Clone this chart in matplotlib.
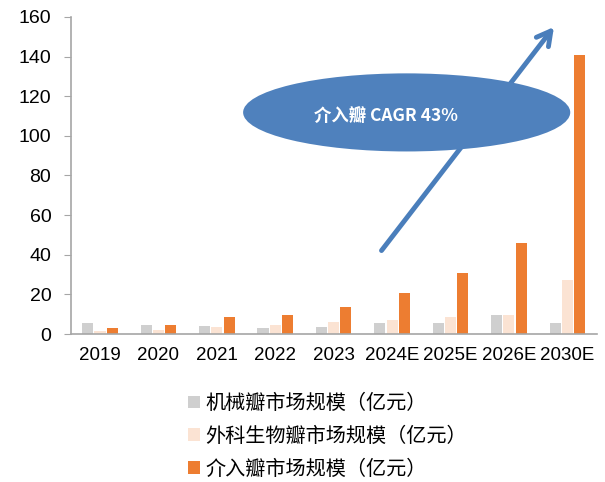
import matplotlib
matplotlib.use("Agg")
import matplotlib.pyplot as plt
import numpy as np
from matplotlib.patches import Ellipse

plt.rcParams['font.family'] = ['Liberation Sans Narrow', 'Liberation Sans', 'Noto Sans CJK SC', 'DejaVu Sans']

years = ["2019", "2020", "2021", "2022", "2023", "2024E", "2025E", "2026E", "2030E"]
mechanical = [5.7, 4.7, 4.2, 3.2, 3.7, 5.4, 5.7, 9.6, 5.7]
bioprosthetic = [1.5, 2.0, 3.5, 4.7, 5.9, 7.2, 8.6, 9.8, 27.3]
interventional = [3.0, 4.7, 8.7, 9.8, 13.8, 20.5, 31.0, 46.0, 141.0]

labels = ["机械瓣市场规模（亿元）", "外科生物瓣市场规模（亿元）", "介入瓣市场规模（亿元）"]
colors = ["#CFCFCF", "#FBE3D3", "#ED7D31"]

fig = plt.figure(figsize=(6.05, 4.82), dpi=100)
ax = fig.add_axes([0.117, 0.307, 0.869, 0.658])

x = np.arange(len(years))
w = 0.19
step = 0.21
handles = []
for i, (vals, c, lab) in enumerate(zip([mechanical, bioprosthetic, interventional], colors, labels)):
    h = ax.bar(x + (i - 1) * step, vals, w, color=c, label=lab, zorder=2)
    handles.append(h)

ax.set_xlim(-0.5, len(years) - 0.5)
ax.set_ylim(0, 160)
ax.set_yticks(range(0, 161, 20))
ax.set_xticks(x)
ax.set_xticklabels(years)
ax.tick_params(axis='x', length=0, pad=9, labelsize=13.5)
ax.tick_params(axis='y', length=5, color="#A6A6A6", labelsize=14, pad=9)
for s in ["top", "right"]:
    ax.spines[s].set_visible(False)
for s in ["left", "bottom"]:
    ax.spines[s].set_color("#A6A6A6")
    ax.spines[s].set_linewidth(1.2)

# growth arrow with the CAGR bubble on top
ax.annotate("", xy=(7.8, 156), xytext=(4.79, 41),
            arrowprops=dict(arrowstyle="->,head_length=1.0,head_width=0.55",
                            color="#4A7EBB", lw=3.5), zorder=3)
ax.add_patch(Ellipse((5.25, 111.8), 5.6, 39.4, facecolor="#4F81BD",
                     edgecolor="none", zorder=4, clip_on=False))
ax.text(4.9, 109.5, "介入瓣 CAGR 43%", color="white", fontsize=12.5, fontweight="bold",
        ha="center", va="center", zorder=5, family=['Noto Sans CJK SC', 'DejaVu Sans'])

fig.legend(handles=handles, labels=labels, loc="upper left",
           bbox_to_anchor=(0.28, 0.222), frameon=False, handlelength=0.6,
           handleheight=0.6, handletextpad=0.3, labelspacing=0.58,
           prop={'family': ['Noto Sans CJK SC', 'DejaVu Sans'], 'size': 14.5})

fig.savefig("out.png", dpi=100)
